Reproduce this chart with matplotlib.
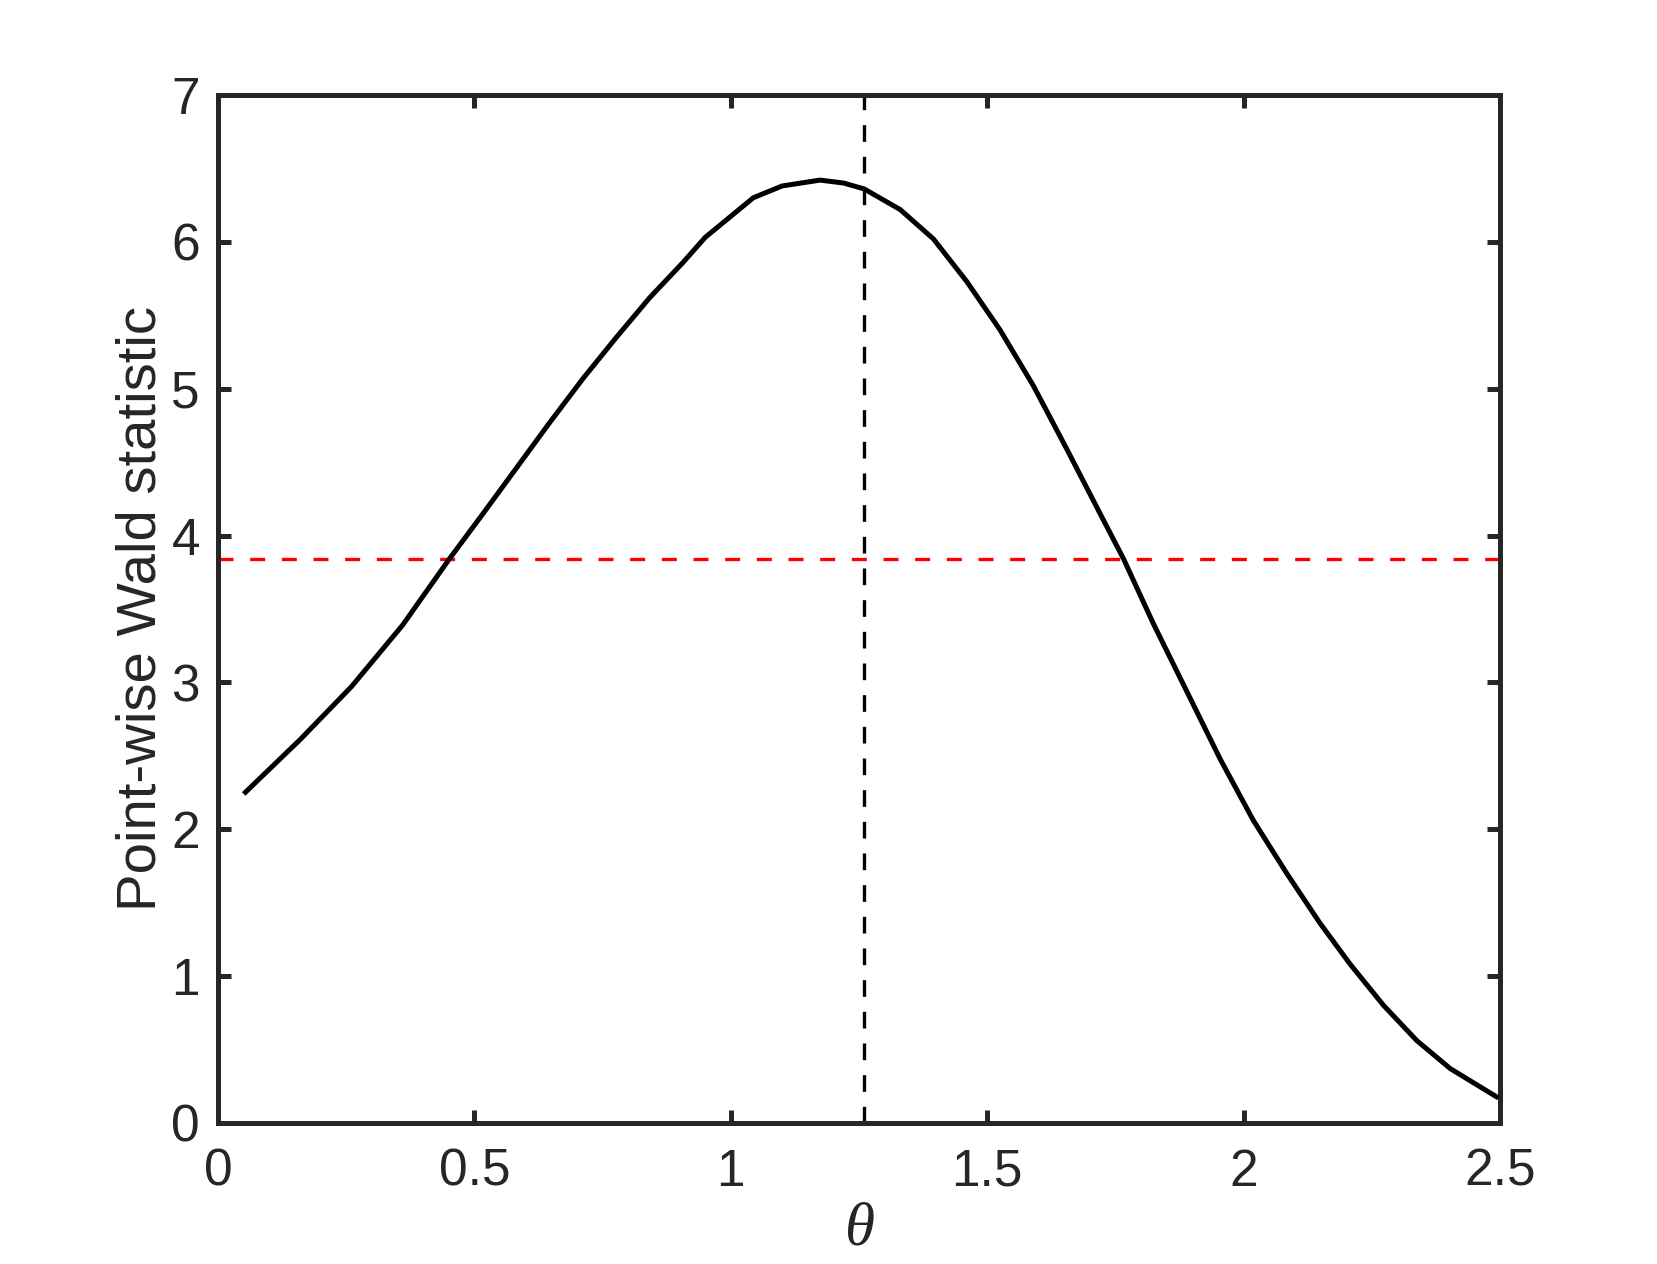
import matplotlib
matplotlib.use("Agg")
import matplotlib.pyplot as plt

theta = [0.05, 0.16, 0.26, 0.36, 0.451, 0.517, 0.582, 0.647, 0.712, 0.777, 0.842, 0.907,
         0.95, 1.044, 1.10, 1.174, 1.22, 1.26, 1.33, 1.395, 1.46, 1.525, 1.59, 1.655, 1.72,
         1.766, 1.824, 1.889, 1.954, 2.019, 2.084, 2.149, 2.208, 2.273, 2.338, 2.403, 2.497]
wald = [2.24, 2.61, 2.97, 3.39, 3.84, 4.15, 4.46, 4.77, 5.07, 5.35, 5.62, 5.86,
        6.03, 6.30, 6.38, 6.42, 6.40, 6.36, 6.22, 6.02, 5.73, 5.40, 5.02, 4.59, 4.15,
        3.84, 3.40, 2.94, 2.48, 2.06, 1.70, 1.36, 1.08, 0.80, 0.56, 0.37, 0.17]
critical_value = 3.84
theta_hat = 1.26
xticks = [0, 0.5, 1, 1.5, 2, 2.5]
xticklabels = ["0", "0.5", "1", "1.5", "2", "2.5"]
yticks = [0, 1, 2, 3, 4, 5, 6, 7]

plt.rcParams['font.family'] = ['Liberation Sans', 'DejaVu Sans']
fig = plt.figure(figsize=(8.29, 6.32), dpi=200)
ax = fig.add_axes([0.1315, 0.1116, 0.7732, 0.8133])

ax.plot(theta, wald, color='black', lw=1.8, solid_joinstyle='round',
        solid_capstyle='butt', zorder=3)
ax.axhline(critical_value, color='red', lw=1.2, ls=(0, (4.5, 5)), zorder=2)
ax.axvline(theta_hat, color='black', lw=1.2, ls=(0, (5, 4.5)), zorder=2)

ax.set_xlim(0, 2.5)
ax.set_ylim(0, 7)
ax.set_xticks(xticks)
ax.set_xticklabels(xticklabels)
ax.set_yticks(yticks)

dark = '#262626'
for s in ax.spines.values():
    s.set_linewidth(1.8)
    s.set_color(dark)
ax.tick_params(direction='in', length=4.7, width=1.8, colors=dark, labelsize=18.5,
               top=True, right=True)
ax.tick_params(axis='x', pad=9)
ax.tick_params(axis='y', pad=6.5)

ax.set_ylabel('Point-wise Wald statistic', fontsize=20.3, color=dark, labelpad=1.5)
ax.set_xlabel('θ', fontsize=22, color=dark, family=['Liberation Serif', 'DejaVu Serif'],
              style='italic', labelpad=2)

fig.savefig('out.png', dpi=200, facecolor='white')
